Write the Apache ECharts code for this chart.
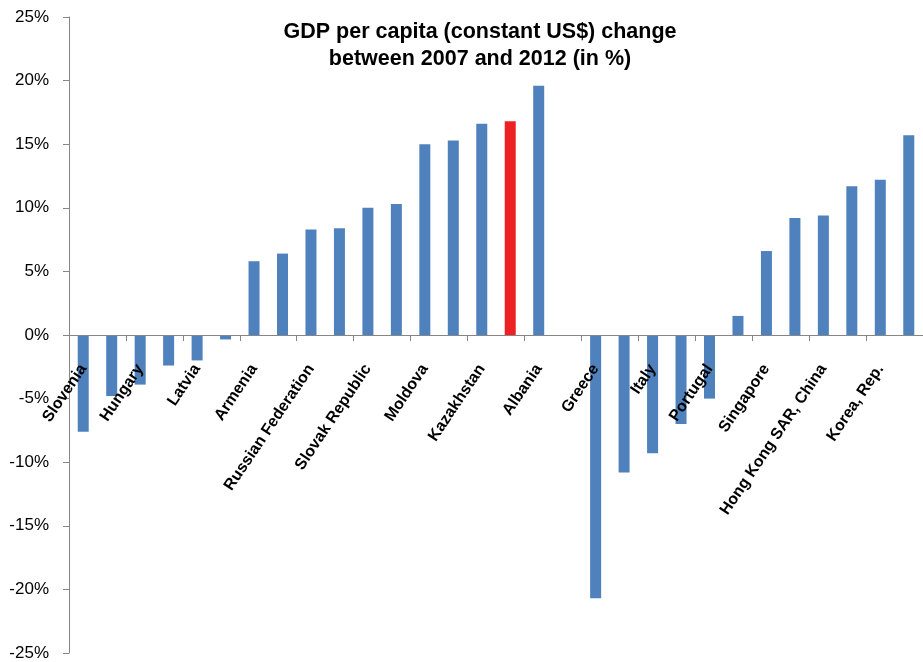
<!DOCTYPE html>
<html>
<head>
<meta charset="utf-8">
<title>GDP per capita change 2007-2012</title>
<script src="https://cdn.jsdelivr.net/npm/echarts@6/dist/echarts.min.js"></script>
<style>
  html, body { margin: 0; padding: 0; background: #fff; }
  #chart { width: 923px; height: 662px; }
</style>
</head>
<body>
<div id="chart"></div>
<script>
// only every other country is labelled on the axis
var countries = [
  "Slovenia", "", "Hungary", "", "Latvia", "", "Armenia", "",
  "Russian Federation", "", "Slovak Republic", "", "Moldova", "",
  "Kazakhstan", "", "Albania", "", "Greece", "", "Italy", "",
  "Portugal", "", "Singapore", "", "Hong Kong SAR, China", "",
  "Korea, Rep.", ""
];
var change = [
  -7.6, -4.8, -3.9, -2.4, -2.0, -0.35, 5.8, 6.4, 8.3, 8.4,
  10.0, 10.3, 15.0, 15.3, 16.6, 16.8, 19.6, null, -20.7, -10.8,
  -9.3, -7.0, -5.0, 1.5, 6.6, 9.2, 9.4, 11.7, 12.2, 15.7
];
var highlighted = [15];
var yTicks = [-25, -20, -15, -10, -5, 0, 5, 10, 15, 20, 25];

var chart = echarts.init(document.getElementById("chart"));

var barData = change.map(function (v, i) {
  if (highlighted.indexOf(i) >= 0) {
    return { value: v, itemStyle: { color: "#ED2024" } };
  }
  return v;
});

// grid is 636px tall for 50 points; 0% sits half-way up, so
// the category axis is lifted from the bottom by that much
var gridHeight = 636;
var zeroOffset = -gridHeight * (0 - yTicks[0]) / (yTicks[yTicks.length - 1] - yTicks[0]);

chart.setOption({
  animation: false,
  backgroundColor: "#ffffff",
  title: {
    text: "GDP per capita (constant US$) change\nbetween 2007 and 2012 (in %)",
    left: 475,
    top: 14,
    textAlign: "center",
    textStyle: {
      fontFamily: "Liberation Sans",
      fontWeight: "bold",
      fontSize: 21.5,
      lineHeight: 27,
      color: "#000"
    }
  },
  grid: {
    left: 69,
    right: 0,
    top: 17,
    height: gridHeight,
    containLabel: false,
    outerBoundsMode: "none"
  },
  xAxis: {
    type: "category",
    data: countries,
    boundaryGap: true,
    position: "bottom",
    offset: zeroOffset,
    z: 5,
    axisLine: { onZero: false, lineStyle: { color: "#868686", width: 1 } },
    axisTick: { show: true, length: 6, lineStyle: { color: "#868686" } },
    axisLabel: {
      interval: 1,
      rotate: 56,
      margin: 31,
      fontFamily: "Liberation Sans",
      fontWeight: "bold",
      fontSize: 16,
      color: "#000"
    },
    splitLine: { show: false }
  },
  yAxis: {
    type: "value",
    min: yTicks[0],
    max: yTicks[yTicks.length - 1],
    interval: 5,
    axisLine: { show: true, lineStyle: { color: "#868686", width: 1 } },
    axisTick: { show: true, length: 6, lineStyle: { color: "#868686" } },
    axisLabel: {
      margin: 20,
      fontFamily: "Liberation Sans",
      fontSize: 17,
      color: "#000",
      formatter: "{value}%"
    },
    splitLine: { show: false }
  },
  series: [
    {
      type: "bar",
      data: barData,
      barWidth: 11,
      itemStyle: { color: "#4F81BD" }
    }
  ]
});
</script>
</body>
</html>
